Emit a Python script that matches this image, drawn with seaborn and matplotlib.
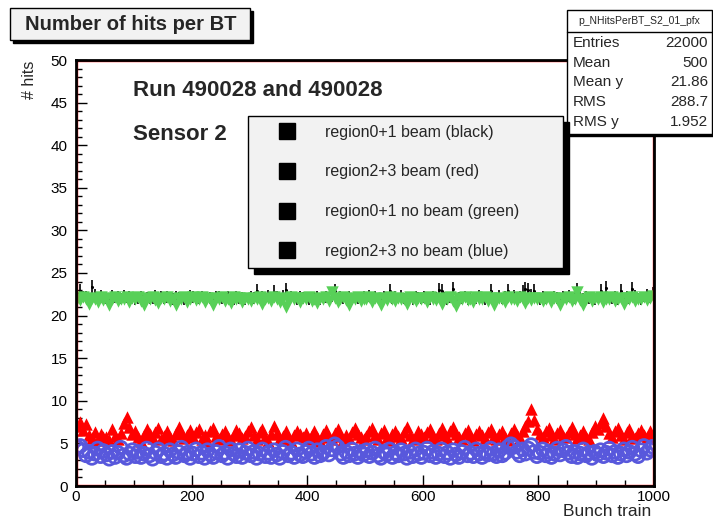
import numpy as np
import pandas as pd
import matplotlib
matplotlib.use("Agg")
import matplotlib.pyplot as plt
from matplotlib.patches import Rectangle
from matplotlib.lines import Line2D
from matplotlib.ticker import MultipleLocator
import seaborn as sns

# ---------------- data ----------------
bunch_train = np.arange(2.5, 1000, 5)

black = [22.6, 22.9, 22.3, 22.2, 22.1, 23.3, 22.4, 22.0, 22.3, 22.2, 22.1, 22.0, 22.3, 22.1, 22.2, 22.0, 22.3, 22.1, 22.2, 22.0,
         21.9, 22.1, 22.3, 22.0, 22.2, 22.1, 22.0, 22.3, 22.1, 22.2, 22.0, 22.2, 22.1, 22.0, 22.3, 22.1, 22.2, 22.0, 22.1, 22.3,
         22.2, 22.0, 22.1, 22.3, 22.0, 22.2, 22.1, 22.0, 22.2, 22.3, 22.1, 22.0, 22.2, 22.1, 22.0, 22.3, 22.1, 22.2, 22.0, 22.1,
         22.3, 22.1, 22.9, 22.0, 22.2, 22.1, 22.3, 22.0, 22.8, 22.2, 22.1, 22.3, 23.0, 22.0, 22.2, 22.1, 22.0, 22.3, 22.1, 22.2,
         22.0, 22.2, 22.1, 22.3, 22.0, 22.1, 22.2, 22.0, 22.3, 22.9, 22.1, 22.2, 22.0, 22.1, 22.3, 22.0, 22.2, 22.1, 22.0, 22.2,
         22.1, 22.3, 22.0, 22.2, 22.1, 22.0, 22.3, 22.1, 22.9, 22.0, 22.2, 22.1, 22.3, 22.0, 22.1, 22.2, 22.0, 22.3, 22.1, 22.0,
         22.2, 22.1, 22.0, 22.3, 22.1, 23.0, 22.9, 22.2, 22.0, 22.1, 23.1, 22.0, 22.2, 22.1, 22.3, 22.0, 22.2, 22.1, 22.0, 22.3,
         22.1, 22.0, 22.2, 22.9, 22.0, 22.1, 22.3, 22.0, 22.2, 22.9, 22.1, 22.3, 22.0, 22.2, 22.8, 23.1, 23.0, 22.4, 22.9, 22.1,
         22.0, 22.3, 22.1, 22.2, 22.0, 22.3, 22.1, 22.0, 22.2, 22.1, 22.3, 22.0, 22.1, 23.0, 22.2, 22.0, 22.3, 22.1, 22.2, 22.0,
         22.1, 22.9, 22.0, 23.2, 22.2, 22.1, 22.3, 22.0, 22.9, 22.1, 22.2, 22.0, 23.1, 22.3, 22.1, 22.0, 22.2, 22.4, 22.1, 22.6]
black_err = [0.7, 0.8, 0.6, 0.7, 0.6, 0.9, 0.7, 0.6, 0.7, 0.6, 0.7, 0.6, 0.7, 0.6, 0.7, 0.6, 0.7, 0.6, 0.7, 0.6,
             0.6, 0.7, 0.6, 0.7, 0.6, 0.7, 0.6, 0.7, 0.6, 0.7, 0.6, 0.7, 0.6, 0.7, 0.6, 0.7, 0.6, 0.7, 0.6, 0.7,
             0.7, 0.6, 0.7, 0.6, 0.7, 0.6, 0.7, 0.6, 0.7, 0.6, 0.7, 0.6, 0.7, 0.6, 0.7, 0.6, 0.7, 0.6, 0.7, 0.6,
             0.6, 0.7, 0.8, 0.6, 0.7, 0.6, 0.7, 0.6, 0.8, 0.7, 0.6, 0.7, 0.8, 0.6, 0.7, 0.6, 0.7, 0.6, 0.7, 0.6,
             0.7, 0.6, 0.7, 0.6, 0.7, 0.6, 0.7, 0.6, 0.7, 0.8, 0.6, 0.7, 0.6, 0.7, 0.6, 0.7, 0.6, 0.7, 0.6, 0.7,
             0.6, 0.7, 0.6, 0.7, 0.6, 0.7, 0.6, 0.7, 0.8, 0.6, 0.7, 0.6, 0.7, 0.6, 0.7, 0.6, 0.7, 0.6, 0.7, 0.6,
             0.7, 0.6, 0.7, 0.6, 0.7, 0.8, 0.8, 0.6, 0.7, 0.6, 0.8, 0.7, 0.6, 0.7, 0.6, 0.7, 0.6, 0.7, 0.6, 0.7,
             0.6, 0.7, 0.6, 0.8, 0.7, 0.6, 0.7, 0.6, 0.7, 0.8, 0.6, 0.7, 0.6, 0.7, 0.8, 0.8, 0.8, 0.7, 0.8, 0.6,
             0.7, 0.6, 0.7, 0.6, 0.7, 0.6, 0.7, 0.6, 0.7, 0.6, 0.7, 0.6, 0.7, 0.8, 0.6, 0.7, 0.6, 0.7, 0.6, 0.7,
             0.6, 0.8, 0.7, 0.9, 0.6, 0.7, 0.6, 0.7, 0.8, 0.6, 0.7, 0.6, 0.8, 0.7, 0.6, 0.7, 0.6, 0.7, 0.6, 0.8]

red = [7.0, 7.5, 6.6, 7.3, 6.0, 5.6, 6.3, 5.4, 6.1, 5.7, 5.8, 5.4, 6.7, 5.9, 5.5, 6.2, 7.4, 8.1, 6.9, 6.1,
       6.4, 5.7, 5.3, 6.0, 6.7, 6.1, 5.6, 6.3, 6.8, 5.5, 5.9, 6.5, 5.7, 5.4, 6.2, 6.9, 6.1, 5.6, 6.0, 6.6,
       5.8, 6.3, 6.7, 5.5, 6.0, 5.3, 6.4, 6.8, 5.9, 5.5, 6.1, 6.5, 5.7, 5.4, 6.0, 6.6, 6.2, 5.6, 5.9, 6.4,
       6.9, 6.0, 5.5, 6.3, 6.7, 5.8, 5.3, 6.1, 7.0, 6.2, 5.6, 5.9, 6.4, 5.5, 5.3, 6.0, 6.5, 6.1, 5.7, 6.2,
       5.5, 6.0, 6.4, 5.7, 5.3, 6.1, 6.6, 5.8, 5.5, 6.2, 6.7, 5.9, 5.4, 6.0, 5.6, 6.3, 6.8, 6.1, 5.7, 5.5,
       5.9, 6.4, 6.8, 6.0, 5.5, 6.2, 6.6, 5.8, 5.4, 6.1, 6.5, 5.9, 5.6, 6.3, 6.9, 6.0, 5.5, 5.8, 6.4, 6.1,
       5.7, 6.3, 6.7, 5.9, 5.5, 6.2, 6.8, 6.0, 5.6, 6.4, 6.9, 6.1, 5.7, 5.5, 6.2, 6.6, 5.9, 5.4, 6.1, 6.5,
       6.0, 5.6, 6.3, 6.7, 5.9, 5.5, 6.1, 6.5, 5.8, 5.4, 6.2, 6.7, 6.0, 5.6, 6.4, 7.0, 7.6, 9.0, 7.8, 6.7,
       6.1, 5.7, 6.4, 6.8, 6.0, 5.5, 6.2, 6.6, 5.9, 5.7, 6.3, 6.9, 6.1, 5.6, 6.0, 6.5, 5.8, 5.5, 6.3, 7.0,
       6.7, 7.4, 8.0, 7.0, 6.2, 5.7, 6.4, 6.8, 6.0, 5.5, 6.3, 6.7, 5.9, 5.6, 6.2, 6.6, 6.0, 5.7, 6.4, 5.9]

green = [22.0, 21.8, 22.2, 21.9, 21.4, 22.1, 22.0, 21.6, 22.2, 21.8, 22.1, 21.3, 21.9, 22.2, 21.7, 22.0, 21.9, 22.2, 21.6, 22.1,
         22.0, 22.2, 21.7, 21.2, 22.1, 21.9, 22.2, 21.8, 21.5, 22.1, 22.0, 22.2, 21.7, 22.0, 21.3, 22.1, 21.9, 22.2, 21.6, 22.0,
         22.2, 21.8, 22.0, 22.2, 21.6, 22.1, 21.9, 21.2, 22.1, 22.0, 22.2, 21.7, 22.0, 21.5, 22.2, 21.9, 22.1, 21.6, 22.1, 22.0,
         21.7, 22.1, 22.0, 22.2, 21.4, 21.9, 22.1, 21.7, 22.2, 22.0, 21.6, 22.1, 21.0, 21.8, 22.2, 22.0, 22.1, 21.6, 22.1, 21.9,
         22.2, 21.7, 22.0, 21.5, 22.1, 22.0, 22.2, 21.7, 22.8, 22.1, 21.6, 22.0, 22.2, 21.8, 21.3, 22.1, 21.9, 22.2, 21.7, 22.0,
         21.9, 22.2, 21.6, 22.1, 22.0, 21.3, 22.1, 21.8, 22.2, 22.0, 21.7, 22.1, 21.9, 22.0, 21.4, 22.2, 22.0, 21.7, 22.1, 21.9,
         22.1, 21.6, 22.2, 22.0, 21.8, 22.1, 21.4, 22.0, 21.9, 22.2, 21.7, 21.1, 22.1, 22.0, 22.2, 21.8, 22.0, 21.6, 22.2, 21.9,
         22.0, 22.2, 21.7, 22.1, 21.3, 21.9, 22.1, 22.0, 21.6, 22.2, 21.9, 22.0, 21.7, 22.2, 22.0, 21.5, 22.1, 21.8, 22.1, 22.0,
         22.1, 21.7, 22.0, 22.2, 21.6, 22.1, 21.9, 21.3, 22.1, 22.0, 22.2, 21.7, 22.0, 22.8, 21.8, 21.2, 22.0, 22.2, 21.7, 22.1,
         21.9, 22.2, 21.6, 22.0, 22.0, 22.2, 21.7, 22.0, 22.1, 21.4, 22.1, 21.9, 22.2, 21.7, 22.0, 22.0, 22.2, 21.8, 22.1, 22.3]

blue = [4.5, 4.7, 4.2, 3.6, 4.0, 3.3, 3.8, 4.4, 3.5, 4.1, 3.7, 3.2, 4.0, 3.4, 3.9, 4.5, 3.6, 3.3, 3.8, 4.2,
        3.5, 4.0, 3.4, 3.8, 4.4, 3.6, 3.2, 3.9, 4.3, 3.5, 3.8, 3.3, 4.2, 3.7, 3.4, 4.0, 4.5, 3.6, 3.9, 3.3,
        3.8, 4.3, 3.5, 3.9, 3.3, 4.2, 3.7, 3.4, 4.0, 4.6, 3.6, 3.9, 3.3, 4.3, 3.8, 3.5, 4.2, 3.4, 3.9, 4.4,
        3.6, 4.0, 3.3, 3.8, 4.3, 3.5, 3.9, 3.4, 4.2, 3.7, 3.3, 4.0, 4.5, 3.6, 3.9, 3.4, 4.3, 3.7, 3.5, 4.0,
        4.4, 3.8, 3.4, 4.2, 3.6, 3.9, 4.6, 3.7, 4.3, 4.9, 4.6, 3.8, 3.4, 4.0, 3.6, 4.3, 3.8, 3.4, 4.0, 3.7,
        4.2, 3.5, 3.9, 4.4, 3.6, 3.3, 4.0, 3.7, 4.3, 3.4, 3.9, 3.6, 4.2, 3.8, 3.3, 4.0, 3.5, 4.3, 3.8, 3.4,
        3.9, 4.4, 3.6, 4.0, 3.4, 3.8, 4.3, 3.5, 3.9, 3.3, 4.2, 3.7, 3.4, 4.0, 4.5, 3.6, 3.9, 3.5, 4.3, 3.8,
        3.4, 4.0, 3.7, 4.4, 3.8, 3.5, 4.2, 3.6, 3.9, 4.6, 4.9, 4.6, 4.0, 3.6, 4.3, 3.8, 4.4, 4.8, 4.0, 3.5,
        3.9, 4.3, 3.6, 4.0, 3.4, 3.8, 4.4, 3.7, 4.2, 4.6, 3.9, 3.5, 4.0, 3.4, 3.8, 4.3, 3.6, 3.9, 3.3, 4.0,
        3.7, 4.2, 3.5, 3.9, 4.4, 3.6, 4.0, 3.4, 3.8, 4.3, 3.6, 4.0, 4.5, 3.8, 3.5, 4.2, 4.7, 3.9, 4.3, 4.6]

legend_labels = ["region0+1 beam (black)", "region2+3 beam (red)",
                 "region0+1 no beam (green)", "region2+3 no beam (blue)"]
stat_names = ["Entries", "Mean", "Mean y", "RMS", "RMS y"]
stat_values = ["22000", "500", "21.86", "288.7", "1.952"]

# ---------------- style ----------------
sns.set_style("ticks")
plt.rcParams["font.family"] = ["Liberation Sans", "DejaVu Sans"]

W, H = 713, 524
fig = plt.figure(figsize=(W / 100, H / 100), dpi=100)
fig.patch.set_facecolor("white")


def fx(x):
    return x / W


def fy(y):
    return 1 - y / H


ax = fig.add_axes([fx(76), fy(486), 578 / W, 426 / H])

df = pd.DataFrame({"bt": bunch_train, "black": black, "err": black_err,
                   "red": red, "green": green, "blue": blue})

GREEN = "#58d058"
BLUE = "#5858dc"
RED = "#ff0000"

ax.errorbar(df["bt"], df["black"], yerr=df["err"], xerr=1.5, fmt="none",
            ecolor="black", elinewidth=1.2, zorder=2)
sns.scatterplot(data=df, x="bt", y="black", ax=ax, color="black", marker="o",
                s=5, linewidth=0, zorder=2, legend=False)
sns.scatterplot(data=df, x="bt", y="red", ax=ax, color=RED, marker="^",
                s=80, linewidth=0, zorder=3, legend=False)
sns.scatterplot(data=df, x="bt", y="green", ax=ax, color=GREEN, marker="v",
                s=80, linewidth=0, zorder=4, legend=False)
sns.scatterplot(data=df, x="bt", y="blue", ax=ax, marker="o", s=85,
                facecolors="none", edgecolor=BLUE, linewidth=2.0, zorder=5,
                legend=False)

ax.set_xlim(0, 1000)
ax.set_ylim(0, 50)
ax.set_xlabel("")
ax.set_ylabel("")
ax.xaxis.set_major_locator(MultipleLocator(200))
ax.xaxis.set_minor_locator(MultipleLocator(50))
ax.yaxis.set_major_locator(MultipleLocator(5))
ax.yaxis.set_minor_locator(MultipleLocator(1))
ax.tick_params(axis="both", which="both", direction="in", top=False,
               right=False, colors="black", labelsize=11)
ax.tick_params(axis="both", which="major", length=8, width=1)
ax.tick_params(axis="both", which="minor", length=4, width=1)
ax.tick_params(axis="y", pad=6)
ax.tick_params(axis="x", pad=3)
for sp in ax.spines.values():
    sp.set_visible(True)
    sp.set_color("black")
    sp.set_linewidth(2.0)
    sp.set_zorder(6)
ax.add_patch(Rectangle((0.002, 0.003), 0.996, 0.994, transform=ax.transAxes,
                       fill=False, edgecolor=RED, linewidth=1.0, zorder=6,
                       clip_on=False))

# axis titles
fig.text(fx(29), fy(80), "# hits", rotation=90, ha="center", va="center",
         fontsize=11.5)
fig.text(fx(651), fy(511), "Bunch train", ha="right", va="center",
         fontsize=12.5)

# annotations
fig.text(fx(133), fy(91), "Run 490028 and 490028", ha="left", va="center",
         fontsize=16, fontweight="bold")
fig.text(fx(133), fy(134), "Sensor 2", ha="left", va="center",
         fontsize=16, fontweight="bold")


def box(x0, y0, x1, y1, face, shadow=0, lw=1.0, z=10):
    if shadow:
        fig.add_artist(Rectangle((fx(x0 + shadow), fy(y1 + shadow)),
                                 (x1 - x0) / W, (y1 - y0) / H,
                                 transform=fig.transFigure, facecolor="black",
                                 edgecolor="black", zorder=z - 0.5))
    fig.add_artist(Rectangle((fx(x0), fy(y1)), (x1 - x0) / W, (y1 - y0) / H,
                             transform=fig.transFigure, facecolor=face,
                             edgecolor="black", linewidth=lw, zorder=z))


# title box
box(10, 8, 250, 40, "#f2f2f2", shadow=3)
fig.text(fx(131), fy(24), "Number of hits per BT", ha="center",
         va="center", fontsize=14.5, fontweight="bold", zorder=11)

# stats box
box(567, 10, 712, 134, "white", shadow=2)
fig.add_artist(Line2D([fx(567), fx(712)], [fy(32), fy(32)],
                      transform=fig.transFigure, color="black", lw=1,
                      zorder=11))
fig.text(fx(639), fy(21), "p_NHitsPerBT_S2_01_pfx", ha="center", va="center",
         fontsize=7.5, zorder=11)
for i, (n, v) in enumerate(zip(stat_names, stat_values)):
    yy = 43 + i * 19.7
    fig.text(fx(573), fy(yy), n, ha="left", va="center", fontsize=11,
             zorder=11)
    fig.text(fx(708), fy(yy), v, ha="right", va="center", fontsize=11,
             zorder=11)

# legend
handles = [Line2D([], [], marker="s", color="black", linestyle="none",
                  markersize=11) for _ in legend_labels]
x0, y0, x1, y1 = 248, 116, 563, 269
fs = 11.5
leg = fig.legend(handles, legend_labels, loc="upper left",
                 bbox_to_anchor=(fx(x0), fy(y0), (x1 - x0) / W, 0.0001),
                 mode="expand", fontsize=fs, labelspacing=1.55,
                 borderpad=0.55, handlelength=3.75, handletextpad=0.55,
                 frameon=True, fancybox=False, framealpha=1,
                 borderaxespad=0)
leg.get_frame().set_facecolor("#f2f2f2")
leg.get_frame().set_edgecolor("black")
leg.get_frame().set_linewidth(1.0)
leg.set_zorder(20)

fig.canvas.draw()
bb = leg.get_window_extent()
fig.add_artist(Rectangle((bb.x0 / W + 6 / W, bb.y0 / H - 6 / H),
                         bb.width / W, bb.height / H,
                         transform=fig.transFigure, facecolor="black",
                         edgecolor="black", zorder=19))

fig.savefig("out.png", dpi=100)
